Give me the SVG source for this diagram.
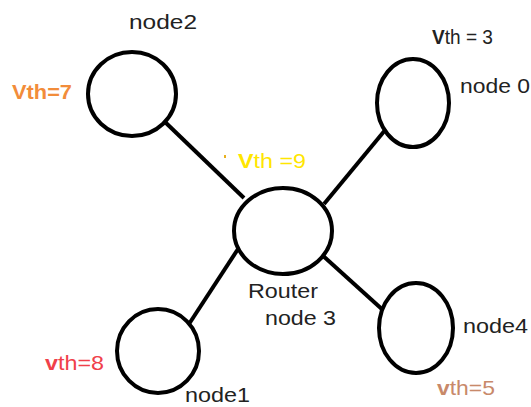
<svg xmlns="http://www.w3.org/2000/svg" width="531" height="407" viewBox="0 0 531 407">
<style>
.n{fill:#fff;stroke:#000;stroke-width:4}
.c line{stroke:#000;stroke-width:4;stroke-linecap:butt}
text{font-family:"Liberation Sans",Arial,sans-serif;font-size:20px;fill:#222}
.v{font-size:21px}
.b{font-weight:bold}
</style>
<rect width="531" height="407" fill="#fff"/>
<g id="connectors" class="c">
<line x1="165" y1="122" x2="244" y2="198"/>
<line x1="386" y1="129" x2="324" y2="204"/>
<line x1="238" y1="249" x2="189" y2="324"/>
<line x1="321" y1="254" x2="384" y2="311"/>
</g>
<g id="node2">
<ellipse class="n" cx="132" cy="94" rx="44" ry="42"/>
<text x="129" y="29" textLength="68" lengthAdjust="spacingAndGlyphs">node2</text>
<text class="v b" x="12" y="99" style="fill:#F28C3A" textLength="60" lengthAdjust="spacingAndGlyphs">Vth=7</text>
</g>
<g id="node0">
<ellipse class="n" cx="413" cy="103" rx="36" ry="44"/>
<text x="432" y="44" class="v" textLength="61" lengthAdjust="spacingAndGlyphs"><tspan class="b">V</tspan>th = 3</text>
<text x="460" y="93" textLength="70" lengthAdjust="spacingAndGlyphs">node 0</text>
</g>
<g id="router">
<ellipse class="n" cx="283" cy="231" rx="49" ry="43"/>
<rect x="224" y="155" width="2" height="3" fill="#E8B020"/>
<text x="238" y="168" class="v" style="fill:#FFE600" textLength="68" lengthAdjust="spacingAndGlyphs"><tspan class="b">V</tspan>th =9</text>
<text x="248" y="298" textLength="70" lengthAdjust="spacingAndGlyphs">Router</text>
<text x="265" y="325" textLength="71" lengthAdjust="spacingAndGlyphs">node 3</text>
</g>
<g id="node1">
<ellipse class="n" cx="158" cy="351" rx="41" ry="42"/>
<text x="45" y="370" class="v" style="fill:#F0404A" textLength="59" lengthAdjust="spacingAndGlyphs"><tspan class="b">v</tspan>th=8</text>
<text x="185" y="402" textLength="65" lengthAdjust="spacingAndGlyphs">node1</text>
</g>
<g id="node4">
<ellipse class="n" cx="416" cy="328" rx="37" ry="45"/>
<text x="463" y="333" textLength="65" lengthAdjust="spacingAndGlyphs">node4</text>
<text x="437" y="395" class="v" style="fill:#C8896A" textLength="58" lengthAdjust="spacingAndGlyphs"><tspan class="b">v</tspan>th=5</text>
</g>
</svg>
